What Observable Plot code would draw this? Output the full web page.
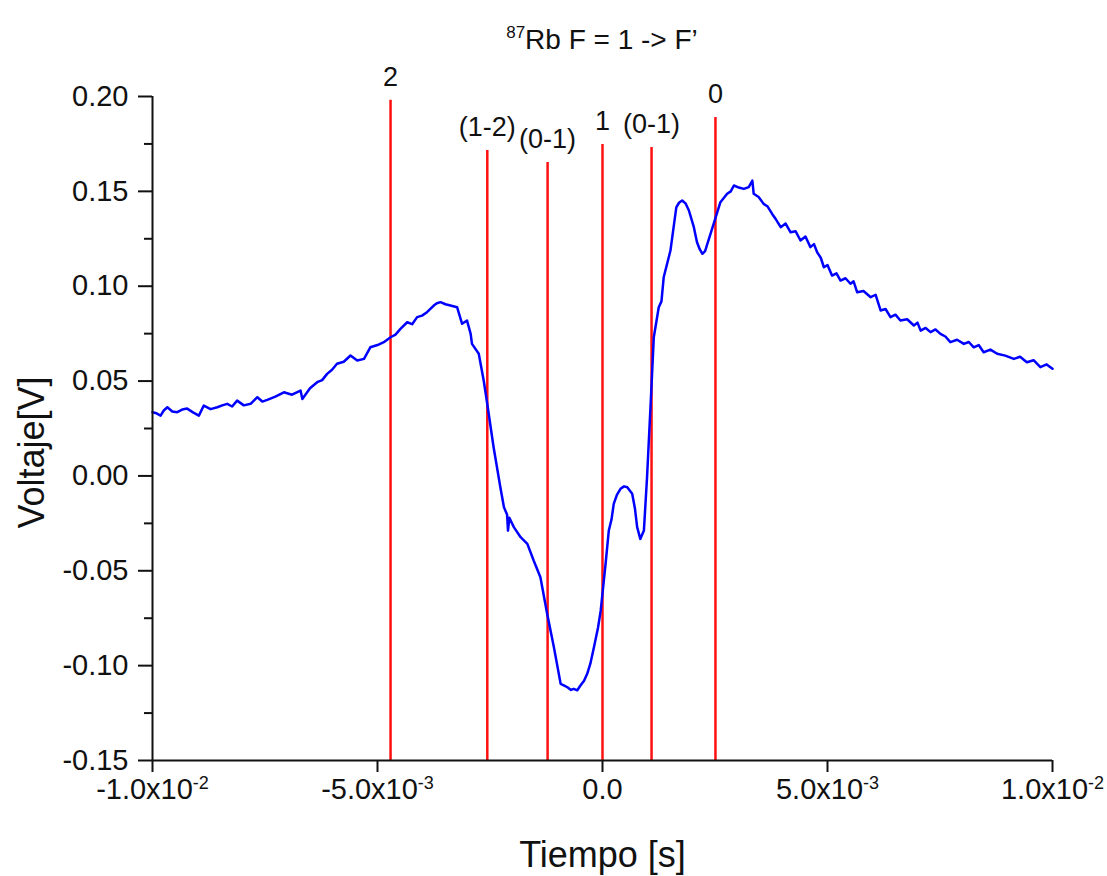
<!DOCTYPE html>
<html><head><meta charset="utf-8">
<script src="https://cdn.jsdelivr.net/npm/d3@7"></script>
<script src="https://cdn.jsdelivr.net/npm/@observablehq/plot@0.6"></script>
<style>
body{margin:0;background:#fff;font-family:"Liberation Sans",Arial,sans-serif;color:#111;}
#title{height:60px;width:1107px;position:relative;}
#title span{position:absolute;left:152px;width:900px;top:26px;text-align:center;font-size:28px;line-height:28px;}
#title sup{font-size:17px;vertical-align:11px;line-height:0;}
</style></head><body>
<div id="title"><span><sup>87</sup>Rb F = 1 -&gt; F’</span></div>
<div id="chart"></div>
<script>
// Time (s)
const timeS = [
-0.01000,-0.00991,-0.00982,-0.00975,-0.00967,-0.00956,-0.00945,-0.00934,-0.00923,-0.00910,
-0.00897,-0.00886,-0.00871,-0.00856,-0.00845,-0.00834,-0.00823,-0.00812,-0.00797,-0.00782,
-0.00767,-0.00756,-0.00745,-0.00727,-0.00708,-0.00690,-0.00671,-0.00667,-0.00650,-0.00634,
-0.00623,-0.00612,-0.00601,-0.00590,-0.00575,-0.00560,-0.00545,-0.00530,-0.00516,-0.00500,
-0.00486,-0.00471,-0.00460,-0.00449,-0.00434,-0.00423,-0.00412,-0.00401,-0.00390,-0.00375,
-0.00368,-0.00360,-0.00349,-0.00338,-0.00323,-0.00312,-0.00301,-0.00293,-0.00290,-0.00275,
-0.00264,-0.00255,-0.00242,-0.00227,-0.00219,-0.00212,-0.00210,-0.00207,-0.00197,-0.00182,
-0.00167,-0.00153,-0.00138,-0.00123,-0.00108,-0.00093,-0.00085,-0.00078,-0.00070,-0.00064,
-0.00056,-0.00049,-0.00041,-0.00034,-0.00027,-0.00019,-0.00010,-0.00004,0.00007,0.00014,
0.00020,0.00025,0.00032,0.00040,0.00048,0.00055,0.00066,0.00072,0.00077,0.00084,
0.00092,0.00099,0.00107,0.00114,0.00125,0.00131,0.00136,0.00151,0.00164,0.00170,
0.00177,0.00185,0.00192,0.00203,0.00210,0.00216,0.00222,0.00228,0.00233,0.00247,
0.00262,0.00277,0.00285,0.00292,0.00303,0.00314,0.00325,0.00333,0.00336,0.00347,
0.00358,0.00367,0.00377,0.00386,0.00396,0.00407,0.00418,0.00429,0.00440,0.00451,
0.00462,0.00470,0.00477,0.00485,0.00492,0.00500,0.00510,0.00520,0.00529,0.00540,
0.00551,0.00558,0.00566,0.00580,0.00596,0.00607,0.00618,0.00629,0.00640,0.00651,
0.00662,0.00677,0.00692,0.00700,0.00707,0.00718,0.00729,0.00740,0.00751,0.00762,
0.00773,0.00788,0.00803,0.00814,0.00825,0.00836,0.00847,0.00862,0.00877,0.00895,
0.00914,0.00928,0.00943,0.00958,0.00973,0.00987,0.01000
];
// Voltage (V)
const voltageV = [
0.0336,0.0330,0.0318,0.0345,0.0362,0.0340,0.0336,0.0350,0.0355,0.0335,
0.0318,0.0371,0.0352,0.0362,0.0372,0.0380,0.0366,0.0397,0.0372,0.0380,
0.0415,0.0392,0.0401,0.0418,0.0441,0.0428,0.0450,0.0406,0.0462,0.0494,
0.0505,0.0538,0.0560,0.0591,0.0602,0.0635,0.0608,0.0617,0.0678,0.0690,
0.0705,0.0731,0.0745,0.0775,0.0810,0.0800,0.0837,0.0845,0.0863,0.0898,
0.0910,0.0916,0.0905,0.0898,0.0889,0.0802,0.0819,0.0749,0.0696,0.0644,
0.0503,0.0362,0.0151,-0.0060,-0.0165,-0.0205,-0.0288,-0.0220,-0.0270,-0.0323,
-0.0358,-0.0446,-0.0534,-0.0727,-0.0903,-0.1096,-0.1105,-0.1114,-0.1128,-0.1122,
-0.1130,-0.1105,-0.1080,-0.1043,-0.0990,-0.0903,-0.0800,-0.0710,-0.0460,-0.0288,
-0.0230,-0.0147,-0.0100,-0.0068,-0.0055,-0.0060,-0.0094,-0.0170,-0.0270,-0.0332,
-0.0288,-0.0007,0.0380,0.0731,0.0889,0.0920,0.1047,0.1188,0.1416,0.1440,
0.1452,0.1435,0.1399,0.1311,0.1232,0.1195,0.1171,0.1185,0.1223,0.1329,
0.1443,0.1487,0.1500,0.1531,0.1520,0.1513,0.1522,0.1557,0.1487,0.1470,
0.1434,0.1420,0.1381,0.1350,0.1311,0.1330,0.1284,0.1290,0.1241,0.1262,
0.1206,0.1222,0.1179,0.1150,0.1100,0.1112,0.1056,0.1068,0.1030,0.1042,
0.1013,0.1026,0.0968,0.0975,0.0942,0.0955,0.0872,0.0880,0.0837,0.0850,
0.0819,0.0826,0.0793,0.0808,0.0766,0.0780,0.0758,0.0772,0.0749,0.0735,
0.0705,0.0718,0.0696,0.0706,0.0678,0.0690,0.0652,0.0666,0.0644,0.0634,
0.0617,0.0628,0.0599,0.0610,0.0573,0.0588,0.0565
];
// Transition markers
const lineT = [-0.00471, -0.00256, -0.00122, 0.0, 0.00109, 0.00251];
const lineTop = [0.198, 0.1715, 0.1652, 0.1747, 0.1731, 0.1889];
const lineLabel = ["2", "(1-2)", "(0-1)", "1", "(0-1)", "0"];
// Ticks
const yTicks = [-0.15, -0.10, -0.05, 0.00, 0.05, 0.10, 0.15, 0.20];
const yMinorTicks = [-0.125, -0.075, -0.025, 0.025, 0.075, 0.125, 0.175];
const xTicks = [-0.01, -0.005, 0, 0.005, 0.01];
const xTickBase = ["-1.0x10", "-5.0x10", "0.0", "5.0x10", "1.0x10"];
const xTickExp = ["-2", "-3", "", "-3", "-2"];

const series = timeS.map((t, i) => ({t, v: voltageV[i]}));
const redLines = lineT.map((t, i) => ({t, top: lineTop[i], label: lineLabel[i]}));

const chart = Plot.plot({
  width: 1107, height: 816,
  marginTop: 36, marginBottom: 116, marginLeft: 152, marginRight: 55,
  style: {fontFamily: '"Liberation Sans", Arial, sans-serif', color: "#111", background: "#fff", overflow: "visible"},
  x: {domain: [-0.01, 0.01]},
  y: {domain: [-0.15, 0.20]},
  marks: [
    Plot.axisY({ticks: yTicks, tickSize: 14, tickPadding: 10, fontSize: 29, strokeWidth: 2,
      tickFormat: d => d.toFixed(2), label: null}),
    Plot.axisY({ticks: yMinorTicks, tickSize: 8, strokeWidth: 2, tickFormat: () => "", label: null}),
    Plot.axisX({ticks: xTicks, tickSize: 12, tickPadding: 6, fontSize: 29, strokeWidth: 2,
      tickFormat: d => xTickBase[xTicks.indexOf(d)], label: null}),
    Plot.ruleX(redLines, {x: "t", y1: -0.15, y2: "top", stroke: "#ff1010", strokeWidth: 2.5}),
    Plot.text(redLines, {x: "t", y: "top", text: "label", dy: -23, fontSize: 27, fill: "#111"}),
    Plot.line(series, {x: "t", y: "v", stroke: "#0000ff", strokeWidth: 2.5}),
    Plot.ruleX([-0.01], {strokeWidth: 2, stroke: "#111"}),
    Plot.ruleY([-0.15], {strokeWidth: 2, stroke: "#111"}),
    Plot.text(["Voltaje[V]"], {text: d => d, frameAnchor: "left", textAnchor: "middle", lineAnchor: "middle",
      dx: -120, dy: 24, rotate: -90, fontSize: 36, fill: "#111"}),
    Plot.text(["Tiempo [s]"], {text: d => d, frameAnchor: "bottom", textAnchor: "middle", lineAnchor: "middle",
      dy: 95, fontSize: 36, fill: "#111"})
  ]
});
document.getElementById("chart").appendChild(chart);

d3.select(chart).selectAll('g[aria-label="x-axis tick label"] text').each(function() {
  const txt = this.textContent;
  const i = xTickBase.indexOf(txt);
  if (i >= 0 && xTickExp[i]) {
    d3.select(this).append("tspan").attr("dy", "-0.55em").attr("font-size", "18px").text(xTickExp[i]);
  }
});
</script></body></html>
